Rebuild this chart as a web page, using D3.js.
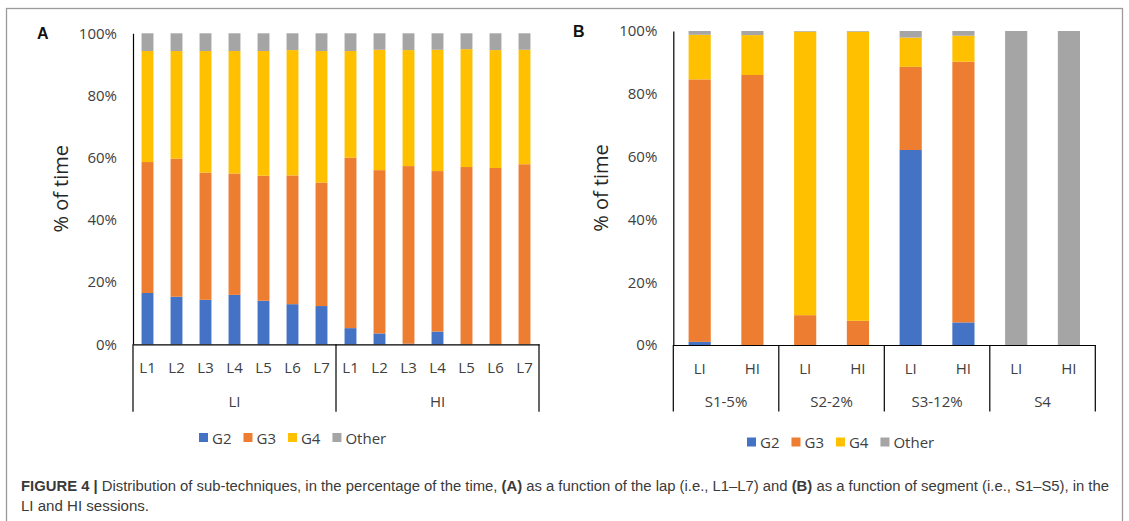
<!DOCTYPE html>
<html><head><meta charset="utf-8">
<script src="https://cdn.jsdelivr.net/npm/d3@7"></script>
<style>
body{margin:0;background:#fff}
svg{display:block}
</style>
</head><body>
<svg id="c" width="1129" height="521"></svg>
<script>
// ---------- data ----------
const seriesNames = ["G2", "G3", "G4", "Other"];
const seriesColors = ["#4472C4", "#ED7D31", "#FFC000", "#A5A5A5"];
const yTicks = [0, 20, 40, 60, 80, 100];

// Panel A: laps within sessions
const lapLabels = ["L1","L2","L3","L4","L5","L6","L7","L1","L2","L3","L4","L5","L6","L7"];
const lapSessions = ["LI","LI","LI","LI","LI","LI","LI","HI","HI","HI","HI","HI","HI","HI"];
const aG2 =    [16.5, 15.3, 14.3, 15.9, 14.0, 12.9, 12.3,  5.2,  3.5,  0.2,  4.1,  0.0,  0.0,  0.0];
const aG3 =    [42.1, 44.4, 40.9, 39.0, 40.2, 41.4, 39.7, 54.8, 52.5, 57.1, 51.6, 57.0, 56.7, 57.9];
const aG4 =    [35.7, 34.6, 39.1, 39.4, 40.1, 40.3, 42.3, 34.3, 38.7, 37.3, 39.0, 37.9, 37.9, 36.8];
const aOther = [ 5.7,  5.7,  5.7,  5.7,  5.7,  5.4,  5.7,  5.7,  5.3,  5.4,  5.3,  5.1,  5.4,  5.3];

// Panel B: sessions within segments
const segSessions = ["LI","HI","LI","HI","LI","HI","LI","HI"];
const segGroups = ["S1-5%","S1-5%","S2-2%","S2-2%","S3-12%","S3-12%","S4","S4"];
const bG2 =    [ 1.0,  0.0,  0.0,  0.0, 62.1,  7.2,   0,   0];
const bG3 =    [83.6, 86.0,  9.5,  7.7, 26.5, 83.0,   0,   0];
const bG4 =    [14.2, 12.7, 90.3, 92.1,  9.3,  8.3,   0,   0];
const bOther = [ 1.2,  1.3,  0.2,  0.2,  2.1,  1.5, 100, 100];

const captionBold1 = "FIGURE 4 | ";
const caption1 = "Distribution of sub-techniques, in the percentage of the time, ";
const caption2 = " as a function of the lap (i.e., L1–L7) and ";
const caption3 = " as a function of segment (i.e., S1–S5), in the";
const captionLine2 = "LI and HI sessions.";

// ---------- drawing ----------
const SANS = "'Open Sans', sans-serif";
const NARROW = "'Liberation Sans', Arial, sans-serif";
const svg = d3.select("#c");
svg.append("rect").attr("width",1129).attr("height",521).attr("fill","#fff");
svg.append("rect").attr("x",6.5).attr("y",8.5).attr("width",1116).attr("height",600)
  .attr("fill","none").attr("stroke","#9a9a9a").attr("stroke-width",1.3);

function panel(cfg){
  const n = cfg.sub.length;
  const rows = cfg.sub.map((s,i)=>({i, G2:cfg.vals[0][i], G3:cfg.vals[1][i], G4:cfg.vals[2][i], Other:cfg.vals[3][i]}));
  const x = d3.scaleBand().domain(d3.range(n)).range([cfg.x0, cfg.x1]).paddingInner(cfg.pad).paddingOuter(cfg.pad/2);
  const y = d3.scaleLinear().domain([0,100]).range([cfg.yBase, cfg.yTop]);
  const stack = d3.stack().keys(seriesNames)(rows);
  const g = svg.append("g");
  stack.forEach((layer,k)=>{
    g.append("g").attr("fill", seriesColors[k]).selectAll("rect").data(layer).join("rect")
      .attr("x", d=>x(d.data.i)).attr("width", x.bandwidth())
      .attr("y", d=>y(d[1])).attr("height", d=>Math.max(0, y(d[0])-y(d[1])));
  });
  // y axis
  const ya = g.append("g").attr("transform",`translate(${cfg.x0},0)`)
    .call(d3.axisLeft(y).tickValues(yTicks).tickFormat(d=>d+"%").tickSize(0).tickSizeOuter(0).tickPadding(16));
  ya.select(".domain").attr("stroke","#000").attr("stroke-width",1.2);
  ya.selectAll("text").attr("font-size",15).attr("fill","#404040").style("font-family",SANS);
  // x axis
  const xa = g.append("g").attr("transform",`translate(0,${cfg.yBase})`)
    .call(d3.axisBottom(x).tickFormat(i=>cfg.sub[i]).tickSize(0).tickSizeOuter(0).tickPadding(18));
  xa.select(".domain").attr("stroke","#000").attr("stroke-width",1.2);
  xa.selectAll("text").attr("font-size",15).attr("fill","#404040").style("font-family",SANS);
  // group separators and labels
  const groups = [];
  cfg.groups.forEach((gname,i)=>{
    if(!groups.length || groups[groups.length-1].name!==gname) groups.push({name:gname, start:i, end:i});
    else groups[groups.length-1].end = i;
  });
  const step = x.step();
  const bounds = [cfg.x0].concat(groups.map(gr=>cfg.x0 + (gr.end+1)*step));
  g.selectAll("line.sep").data(bounds).join("line").attr("class","sep")
    .attr("x1",d=>d).attr("x2",d=>d).attr("y1",cfg.yBase).attr("y2",cfg.sepBottom)
    .attr("stroke","#000").attr("stroke-width",1.2);
  g.selectAll("text.grp").data(groups).join("text").attr("class","grp")
    .attr("x", gr=>cfg.x0 + (gr.start + (gr.end-gr.start+1)/2)*step)
    .attr("y", cfg.grpY).attr("text-anchor","middle").attr("dominant-baseline","central")
    .attr("font-size",15).attr("fill","#404040").style("font-family",SANS).text(gr=>gr.name);
  // y title
  g.append("text").attr("transform",`translate(${cfg.titleX},${(cfg.yTop+cfg.yBase)/2}) rotate(-90)`)
    .attr("text-anchor","middle").attr("dominant-baseline","central").style("font-family",SANS)
    .attr("font-size",20).attr("fill","#262626").text("% of time");
  // panel letter
  g.append("text").attr("x",cfg.letterX).attr("y",cfg.letterY).attr("dominant-baseline","central")
    .style("font-family","'Liberation Sans', Arial, sans-serif").attr("font-weight","bold")
    .attr("font-size",16).attr("fill","#111").text(cfg.letter);
  // legend
  let lx = cfg.legX;
  seriesNames.forEach((s,k)=>{
    g.append("rect").attr("x",lx).attr("y",cfg.legY-4.5).attr("width",9).attr("height",9).attr("fill",seriesColors[k]);
    const t = g.append("text").attr("x",lx+13).attr("y",cfg.legY).attr("dominant-baseline","central")
      .style("font-family",SANS).attr("font-size",15).attr("fill","#404040").text(s);
    lx += 13 + t.node().getComputedTextLength() + 12;
  });
}

panel({sub:lapLabels, groups:lapSessions, vals:[aG2,aG3,aG4,aOther],
  x0:133, x1:539, yTop:33.3, yBase:344.3, pad:0.59, sepBottom:411.7, grpY:401,
  titleX:60, letter:"A", letterX:37, letterY:33, legX:199, legY:437.5});
panel({sub:segSessions, groups:segGroups, vals:[bG2,bG3,bG4,bOther],
  x0:673.3, x1:1095.3, yTop:31, yBase:345, pad:0.58, sepBottom:411.5, grpY:401,
  titleX:600, letter:"B", letterX:573, letterY:31, legX:747, legY:442});

// caption
const cap = svg.append("text").attr("x",21).attr("y",491).style("font-family",NARROW)
  .attr("font-size",14).attr("fill","#3a3a3a").attr("textLength",1088).attr("lengthAdjust","spacingAndGlyphs");
cap.append("tspan").attr("font-weight","bold").text(captionBold1);
cap.append("tspan").text(caption1);
cap.append("tspan").attr("font-weight","bold").text("(A)");
cap.append("tspan").text(caption2);
cap.append("tspan").attr("font-weight","bold").text("(B)");
cap.append("tspan").text(caption3);
svg.append("text").attr("x",21).attr("y",511).style("font-family",NARROW)
  .attr("font-size",14).attr("fill","#3a3a3a").attr("textLength",128).attr("lengthAdjust","spacingAndGlyphs")
  .text(captionLine2);
</script>
</body></html>
